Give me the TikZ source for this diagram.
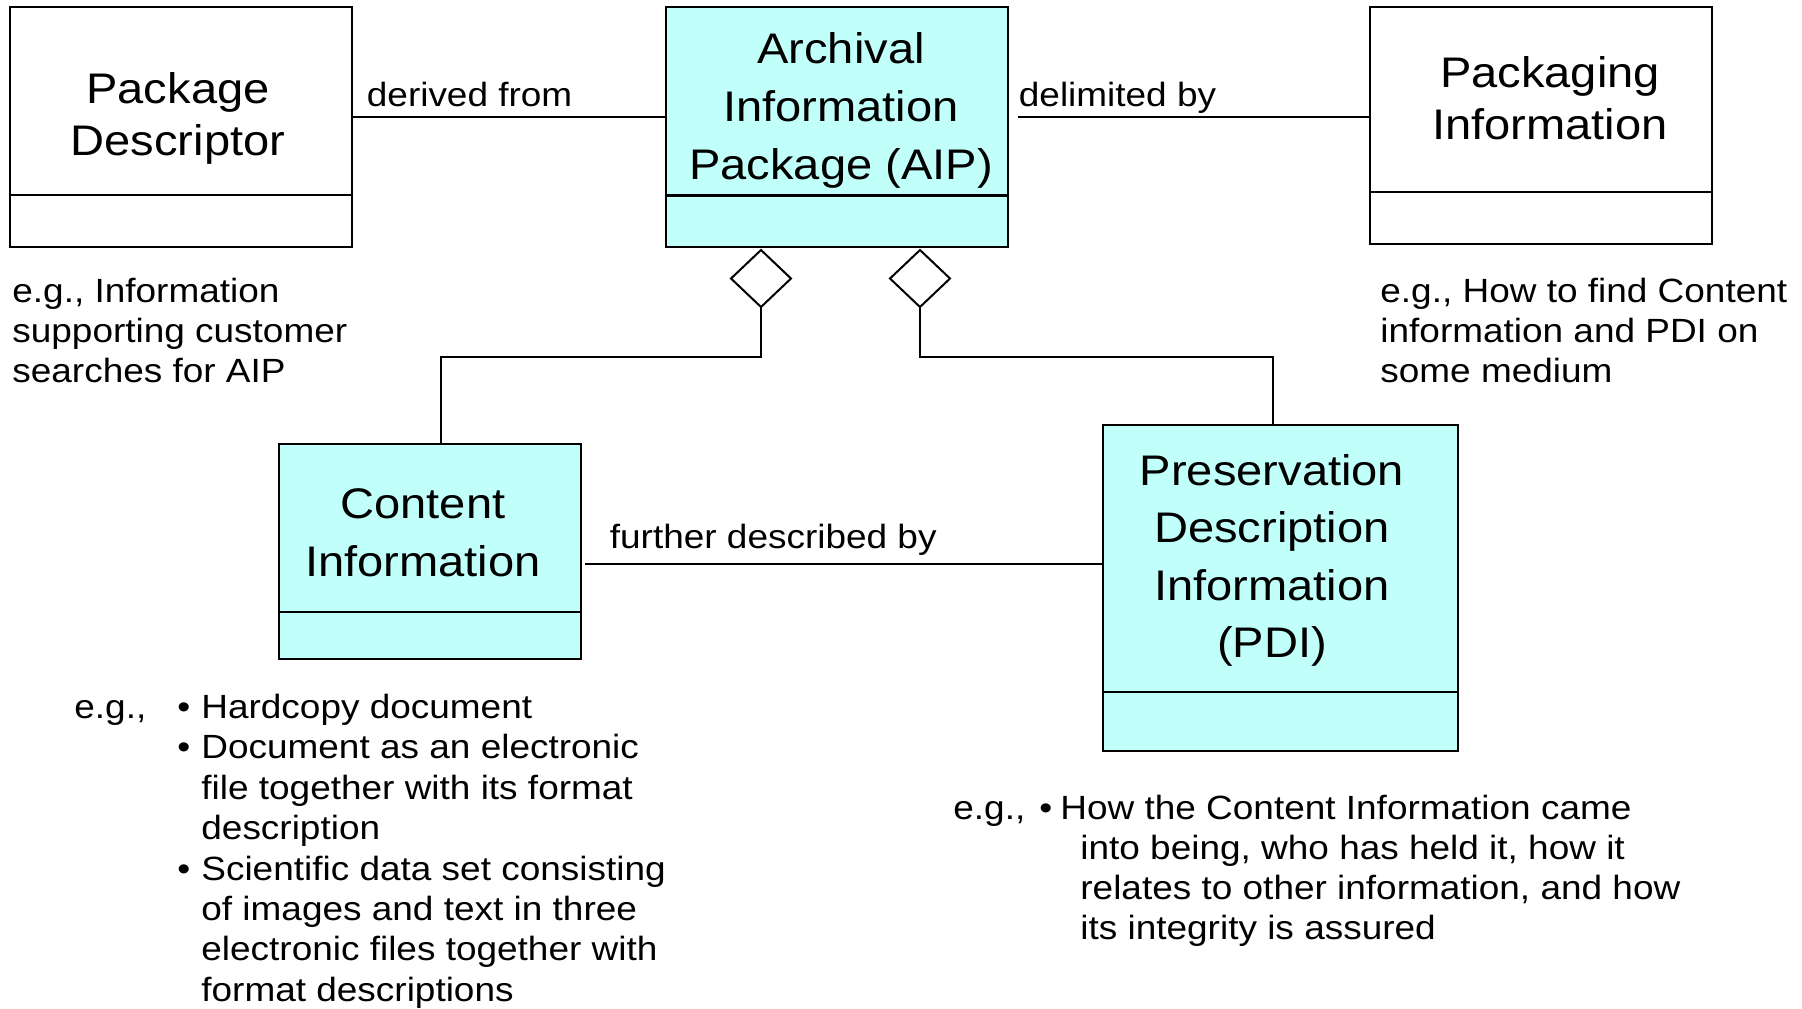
\documentclass[tikz,border=0pt]{standalone}
\usepackage{fontspec}
\setmainfont{Liberation Sans}[FakeStretch=1.1]
\usetikzlibrary{shapes.geometric}
\definecolor{aqua}{HTML}{C0FFFA}
\newcommand{\mytabc}[1]{\begin{tabular}[t]{@{}c@{}}#1\end{tabular}}
\newcommand{\mytabl}[1]{\begin{tabular}[t]{@{}l@{}}#1\end{tabular}}
\newcommand{\mybul}{\llap{\textbullet\hspace{5.5pt}}}
\begin{document}
\begin{tikzpicture}[x=0.5pt,y=-0.5pt,
  umlbox/.style={draw=black, line width=1.3pt, inner sep=0pt, outer sep=0pt, minimum width=171pt},
  divider/.style={line width=1.3pt},
  title/.style={inner sep=0pt, anchor=base},
  lbl/.style={inner sep=0pt, anchor=base west, font=\fontsize{16.8}{20}\selectfont},
  conn/.style={line width=1pt},
  agg/.style={draw=black, shape=diamond, line width=1pt, fill=white, minimum width=30pt, minimum height=28.5pt, inner sep=0pt, outer sep=0pt}
]
\path[use as bounding box, fill=white] (0,0) rectangle (1802,1008);

% boxes
\node[umlbox, minimum height=120pt] (pd) at (181,127) {};
\draw[divider] (pd.west |- 0,195) -- (pd.east |- 0,195);
\node[umlbox, fill=aqua, minimum height=120pt] (aip) at (837,127) {};
\draw[divider] (aip.west |- 0,195.5) -- (aip.east |- 0,195.5);
\node[umlbox, minimum height=118.5pt] (pi) at (1541,125.5) {};
\draw[divider] (pi.west |- 0,192) -- (pi.east |- 0,192);
\node[umlbox, fill=aqua, minimum width=151pt, minimum height=107.5pt] (ci) at (430,551.5) {};
\draw[divider] (ci.west |- 0,612) -- (ci.east |- 0,612);
\node[umlbox, fill=aqua, minimum width=177.5pt, minimum height=163pt] (pdi) at (1280.5,588) {};
\draw[divider] (pdi.west |- 0,692) -- (pdi.east |- 0,692);

% titles
\node[title, font=\fontsize{21.4}{26}\selectfont] (pdt) at (178,103) {\mytabc{Package\\Descriptor}};
\node[title, font=\fontsize{21.4}{29}\selectfont] (aipt) at (841,63) {\mytabc{Archival\\Information\\Package (AIP)}};
\node[title, font=\fontsize{21.4}{26}\selectfont] (pit) at (1550,87) {\mytabc{Packaging\\Information}};
\node[title, font=\fontsize{21.4}{28.8}\selectfont] (cit) at (423,518.5) {\mytabc{Content\\Information}};
\node[title, font=\fontsize{21.4}{28.8}\selectfont] (pdit) at (1272,485) {\mytabc{Preservation\\Description\\Information\\(PDI)}};

% aggregation diamonds
\node[agg] (d1) at (761,278.5) {};
\node[agg] (d2) at (920,278.5) {};

% connectors
\coordinate (dfy) at (0,116.7);
\draw[conn] (pd.east |- dfy) -- (aip.west |- dfy);
\coordinate (dly) at (1018,116.7);
\draw[conn] (dly) -- (pi.west |- dly);
\coordinate (fdy) at (585,564);
\draw[conn] (fdy) -- (pdi.west |- fdy);
\coordinate (cj) at (441,357.4);
\draw[conn] (d1.south) |- (cj) -- (cj |- ci.north);
\coordinate (pj) at (1273,357.4);
\draw[conn] (d2.south) |- (pj) -- (pj |- pdi.north);

% connector labels
\node[lbl] (l1) at (366.5,106) {derived from};
\node[lbl] (l2) at (1018.5,106) {delimited by};
\node[lbl] (l3) at (609.5,548) {further described by};

% notes
\node[lbl] (n1) at (12,302) {\mytabl{e.g., Information\\supporting customer\\searches for AIP}};
\node[lbl] (n2) at (1380,302) {\mytabl{e.g., How to find Content\\information and PDI on\\some medium}};
\node[lbl, font=\fontsize{16.8}{20.2}\selectfont] (n3a) at (74,718.5) {e.g.,};
\node[lbl, font=\fontsize{16.8}{20.2}\selectfont] (n3) at (201,718.5) {\mytabl{\mybul Hardcopy document\\
\mybul Document as an electronic\\
file together with its format\\
description\\
\mybul Scientific data set consisting\\
of images and text in three\\
electronic files together with\\
format descriptions}};
\node[lbl] (n4a) at (953,819.3) {e.g.,};
\node[lbl] (n4) at (1080,819.3) {\mytabl{\hspace*{-10pt}\llap{\textbullet\hspace{4pt}}How the Content Information came\\
into being, who has held it, how it\\
relates to other information, and how\\
its integrity is assured}};
\end{tikzpicture}
\end{document}
